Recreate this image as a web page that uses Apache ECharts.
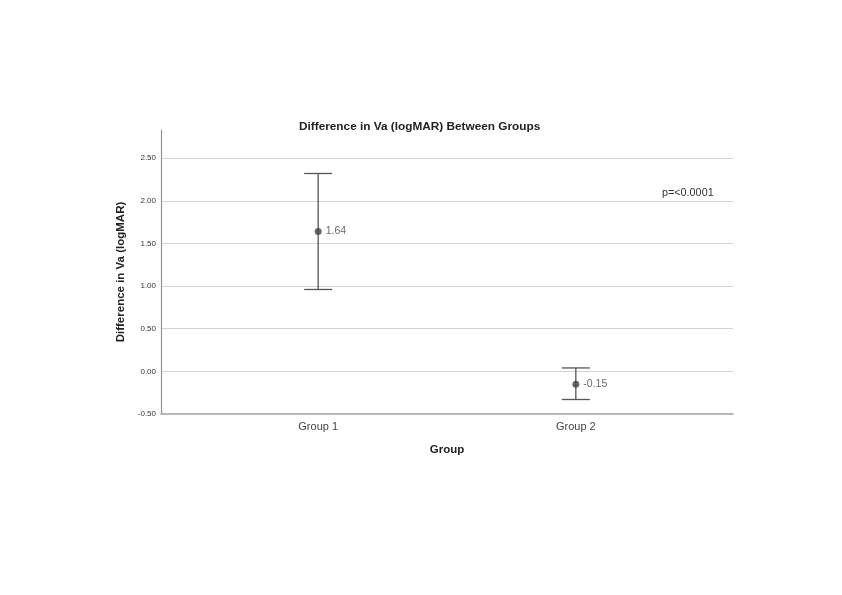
<!DOCTYPE html>
<html>
<head>
<meta charset="utf-8">
<script src="https://cdn.jsdelivr.net/npm/echarts@6/dist/echarts.min.js"></script>
<style>html,body{margin:0;padding:0;background:#fff}#c{width:842px;height:595px}</style>
</head>
<body>
<div id="c"></div>
<script>
const groups = ['Group 1', 'Group 2'];
const groupPos = [1, 2];
const means = [1.64, -0.15];
const lower = [0.96, -0.33];
const upper = [2.32, 0.04];
const yTicks = [-0.5, 0, 0.5, 1, 1.5, 2, 2.5];
const annotation = 'p=<0.0001';

const FONT = 'Liberation Sans, Arial, sans-serif';
const chart = echarts.init(document.getElementById('c'), null, {renderer: 'canvas'});

const errData = groupPos.map((x, i) => [x, lower[i], upper[i]]);
const meanData = groupPos.map((x, i) => [x, means[i]]);

chart.setOption({
  backgroundColor: '#fff',
  animation: false,
  title: [{
    text: 'Difference in Va (logMAR) Between Groups',
    left: 294, top: 116,
    textStyle: {fontFamily: FONT, fontSize: 11.8, fontWeight: 'bold', color: '#222'}
  }, {
    text: annotation,
    left: 657, top: 183,
    textStyle: {fontFamily: FONT, fontSize: 10.8, fontWeight: 'normal', color: '#333'}
  }],
  grid: {left: 161, right: 109, top: 130, bottom: 181, containLabel: false},
  xAxis: {
    type: 'value', min: 0.39, max: 2.61, interval: 0.01,
    name: 'Group', nameLocation: 'middle', nameGap: 30,
    nameTextStyle: {fontFamily: FONT, fontSize: 11.5, fontWeight: 'bold', color: '#222'},
    axisLine: {show: true, onZero: false, lineStyle: {color: '#a0a0a0', width: 1.5}},
    axisTick: {show: false},
    splitLine: {show: false},
    axisLabel: {
      margin: 7, fontFamily: FONT, fontSize: 11, color: '#444',
      hideOverlap: false,
      formatter: v => {
        const k = groupPos.findIndex(p => Math.abs(p - v) < 1e-6);
        return k >= 0 ? groups[k] : '';
      }
    }
  },
  yAxis: {
    type: 'value', min: -0.5, max: 2.83, interval: 0.5,
    name: 'Difference in Va (logMAR)', nameLocation: 'middle', nameGap: 33,
    nameTextStyle: {fontFamily: FONT, fontSize: 11.5, fontWeight: 'bold', color: '#222'},
    axisLine: {show: true, onZero: false, lineStyle: {color: '#909090', width: 1.2}},
    axisTick: {show: false},
    splitLine: {show: true, lineStyle: {color: ['rgba(0,0,0,0)','#d2d2d2','#d2d2d2','#d2d2d2','#d2d2d2','#d2d2d2','#d2d2d2','rgba(0,0,0,0)'], width: 1.2}},
    axisLabel: {
      margin: 5, fontFamily: FONT, fontSize: 8, color: '#333',
      showMaxLabel: false,
      formatter: v => yTicks.some(t => Math.abs(t - v) < 1e-6) ? v.toFixed(2) : ''
    }
  },
  series: [{
    type: 'custom',
    data: errData,
    renderItem: (params, api) => {
      const x = api.value(0);
      const lo = api.coord([x, api.value(1)]);
      const hi = api.coord([x, api.value(2)]);
      const w = 14;
      const st = {stroke: '#555', lineWidth: 1.3};
      return {type: 'group', children: [
        {type: 'line', shape: {x1: lo[0], y1: lo[1], x2: hi[0], y2: hi[1]}, style: st},
        {type: 'line', shape: {x1: hi[0] - w, y1: hi[1], x2: hi[0] + w, y2: hi[1]}, style: st},
        {type: 'line', shape: {x1: lo[0] - w, y1: lo[1], x2: lo[0] + w, y2: lo[1]}, style: st}
      ]};
    },
    z: 2
  }, {
    type: 'scatter',
    data: meanData,
    symbol: 'circle', symbolSize: 7,
    itemStyle: {color: '#444'},
    label: {
      show: true, position: 'right', distance: 4,
      fontFamily: FONT, fontSize: 10.5, color: '#444',
      formatter: p => means[p.dataIndex].toFixed(2)
    },
    z: 3
  }]
});
</script>
</body>
</html>
